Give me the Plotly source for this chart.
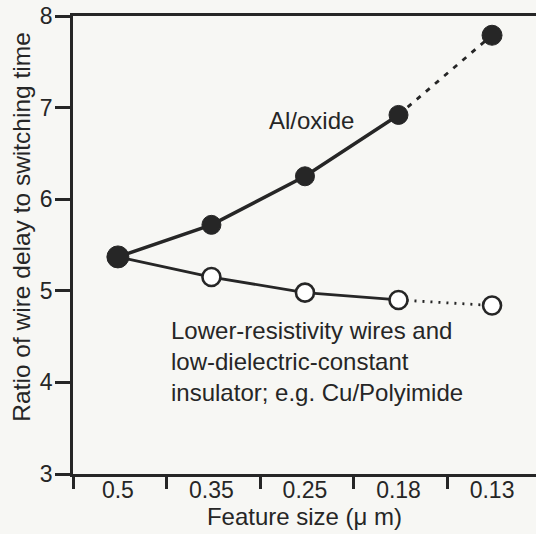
import plotly.graph_objects as go

feature_sizes = ["0.5", "0.35", "0.25", "0.18", "0.13"]
al_oxide = [5.37, 5.72, 6.25, 6.92, 7.79]
cu_polyimide = [5.37, 5.15, 4.98, 4.90, 4.84]
y_ticks = [3, 4, 5, 6, 7, 8]

FONT = "Liberation Sans, Arial, Helvetica, sans-serif"
INK = "#262626"
BG = "#f7f7f4"

idx = list(range(len(feature_sizes)))
n_solid = 4  # measured points; last one is projected (dotted)
x_range = [-0.48, 4.47]

fig = go.Figure()

# Cu/Polyimide series
fig.add_trace(go.Scatter(
    x=idx[n_solid - 1:], y=cu_polyimide[n_solid - 1:], mode="lines",
    line=dict(color=INK, width=2.8, dash="2px,6px"), showlegend=False, hoverinfo="skip"))
fig.add_trace(go.Scatter(
    x=idx[:n_solid], y=cu_polyimide[:n_solid], mode="lines",
    line=dict(color=INK, width=2.8), showlegend=False))
fig.add_trace(go.Scatter(
    x=idx[1:], y=cu_polyimide[1:], mode="markers",
    marker=dict(size=18, color="white", opacity=1, line=dict(color=INK, width=2.6)),
    showlegend=False))

# Al/oxide series
fig.add_trace(go.Scatter(
    x=idx[n_solid - 1:], y=al_oxide[n_solid - 1:], mode="lines",
    line=dict(color=INK, width=2.8, dash="5px,7px"), showlegend=False, hoverinfo="skip"))
fig.add_trace(go.Scatter(
    x=idx[:n_solid], y=al_oxide[:n_solid], mode="lines",
    line=dict(color=INK, width=3.5), showlegend=False))
fig.add_trace(go.Scatter(
    x=idx, y=al_oxide, mode="markers",
    marker=dict(size=[22, 19, 19, 19, 20], color=INK, opacity=1,
                line=dict(color=INK, width=1)),
    showlegend=False))

fig.update_layout(
    width=536, height=534,
    margin=dict(l=73, r=0, t=16, b=60),
    paper_bgcolor=BG, plot_bgcolor=BG,
    font=dict(family=FONT, size=23, color=INK),
    xaxis=dict(
        range=x_range, showgrid=False, zeroline=False,
        showline=True, linecolor=INK, linewidth=2.5, mirror=True,
        tickvals=[x_range[0]] + [i + 0.52 for i in idx[:-1]],
        ticktext=["" for _ in idx],
        ticks="outside", ticklen=12, tickwidth=2.5, tickcolor=INK,
    ),
    xaxis2=dict(
        overlaying="x", side="bottom", range=x_range,
        showgrid=False, zeroline=False, showline=False,
        tickvals=idx, ticktext=feature_sizes,
        ticks="", tickfont=dict(size=23, color=INK),
        title=dict(text="Feature size (\u03bc m)", font=dict(size=24, color=INK), standoff=0),
    ),
    yaxis=dict(
        range=[3, 8], showgrid=False, zeroline=False,
        showline=True, linecolor=INK, linewidth=2.5,
        tickvals=y_ticks, ticks="outside", ticklen=15, tickwidth=2.5, tickcolor=INK,
        tickfont=dict(size=23, color=INK), ticklabelstandoff=-2,
    ),
    annotations=[
        dict(text="Ratio of wire delay to switching time", textangle=-90,
             xref="paper", yref="paper", x=-0.11, y=0.538,
             xanchor="center", yanchor="middle", showarrow=False,
             font=dict(size=24.5, color=INK)),
        dict(text="Al/oxide", x=1.59, y=6.86, xref="x", yref="y",
             xanchor="left", yanchor="middle", showarrow=False,
             font=dict(size=24, color=INK)),
        dict(text="Lower-resistivity wires and<br>low-dielectric-constant<br>insulator; e.g. Cu/Polyimide",
             x=0.545, y=4.23, xref="x", yref="y", align="left",
             xanchor="left", yanchor="middle", showarrow=False,
             font=dict(size=24, color=INK)),
    ],
)
# bind xaxis2 so it is displayed
fig.add_trace(go.Scatter(x=[None], y=[None], xaxis="x2", showlegend=False, hoverinfo="skip"))

fig.write_html("out.html", config={"displayModeBar": False},
               post_script="document.body.style.margin='0';document.body.style.overflow='hidden';")
